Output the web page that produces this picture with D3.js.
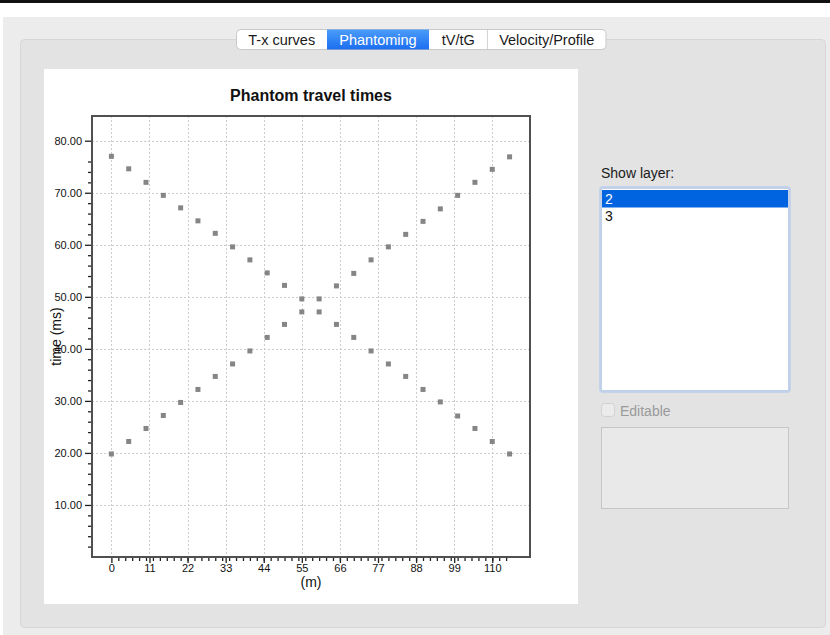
<!DOCTYPE html>
<html>
<head>
<meta charset="utf-8">
<script src="https://cdn.jsdelivr.net/npm/d3@7/dist/d3.min.js"></script>
<style>
  html, body { margin: 0; padding: 0; background: #fff; }
  svg { display: block; }
  text { font-family: "Liberation Sans", Arial, sans-serif; }
</style>
</head>
<body>
<svg id="app" width="830" height="635"></svg>
<script>
// Receiver positions along the line (m)
const positions = [0, 5, 10, 15, 20, 25, 30, 35, 40, 45, 50, 55,
                   60, 65, 70, 75, 80, 85, 90, 95, 100, 105, 110, 115];
// Phantom travel times (ms), shot at the left end
const shotLeft = [19.8, 22.2, 24.7, 27.2, 29.7, 32.2, 34.7, 37.1, 39.6, 42.2, 44.7, 47.1,
                  49.6, 52.1, 54.5, 57.1, 59.6, 62.0, 64.5, 66.9, 69.5, 72.0, 74.5, 76.9];
// Phantom travel times (ms), shot at the right end
const shotRight = [77.0, 74.6, 72.0, 69.5, 67.1, 64.6, 62.2, 59.6, 57.1, 54.6, 52.2, 49.6,
                   47.1, 44.7, 42.2, 39.6, 37.1, 34.7, 32.2, 29.8, 27.1, 24.7, 22.2, 19.8];
// Axis ticks
const xTicks = [0, 11, 22, 33, 44, 55, 66, 77, 88, 99, 110];
const xMinorTicks = [2, 4, 6, 8, 10, 12, 14, 16, 18, 20, 22, 24, 26, 28, 30, 32, 34, 36, 38, 40,
                     42, 44, 46, 48, 50, 52, 54, 56, 58, 60, 62, 64, 66, 68, 70, 72, 74, 76, 78, 80,
                     82, 84, 86, 88, 90, 92, 94, 96, 98, 100, 102, 104, 106, 108, 110, 112, 114];
const yTicks = [10, 20, 30, 40, 50, 60, 70, 80];
const yMinorTicks = [2, 4, 6, 8, 12, 14, 16, 18, 22, 24, 26, 28, 32, 34, 36, 38, 42, 44, 46, 48,
                     52, 54, 56, 58, 62, 64, 66, 68, 72, 74, 76];
// Interface labels
const tabs = ["T-x curves", "Phantoming", "tV/tG", "Velocity/Profile"];
const activeTab = "Phantoming";
const layers = ["2", "3"];
const selectedLayer = "2";

const svg = d3.select("#app");

// ---- window chrome ----
svg.append("rect").attr("x", 0).attr("y", 0).attr("width", 830).attr("height", 3).attr("fill", "#111");
svg.append("rect").attr("x", 3).attr("y", 17).attr("width", 827).attr("height", 618).attr("fill", "#ececec");
svg.append("rect").attr("x", 20.5).attr("y", 39.5).attr("width", 805).attr("height", 588)
  .attr("rx", 4).attr("fill", "#e3e3e3").attr("stroke", "#d6d6d6");

// ---- tab bar ----
const tabEdges = [236.5, 327, 429, 487.5, 606];
const tabG = svg.append("g");
const grad = svg.append("defs").append("linearGradient").attr("id", "tabBlue")
  .attr("x1", 0).attr("y1", 0).attr("x2", 0).attr("y2", 1);
grad.append("stop").attr("offset", "0%").attr("stop-color", "#4a9cf9");
grad.append("stop").attr("offset", "100%").attr("stop-color", "#1c6ef0");
tabG.append("rect").attr("x", tabEdges[0]).attr("y", 29.5).attr("width", tabEdges[4] - tabEdges[0])
  .attr("height", 20).attr("rx", 4).attr("fill", "#fff").attr("stroke", "#c9c9c9");
tabs.forEach((t, i) => {
  const x0 = tabEdges[i], x1 = tabEdges[i + 1];
  if (t === activeTab) {
    tabG.append("rect").attr("x", x0).attr("y", 29.5).attr("width", x1 - x0).attr("height", 20)
      .attr("fill", "url(#tabBlue)");
  } else if (i > 0 && tabs[i - 1] !== activeTab) {
    tabG.append("line").attr("x1", x0).attr("x2", x0).attr("y1", 30).attr("y2", 49)
      .attr("stroke", "#d4d4d4");
  }
  tabG.append("text").attr("x", (x0 + x1) / 2).attr("y", 44.5).attr("text-anchor", "middle")
    .attr("font-size", 14.5).attr("fill", t === activeTab ? "#fff" : "#1a1a1a").text(t);
});

// ---- chart panel ----
svg.append("rect").attr("x", 44).attr("y", 69).attr("width", 534).attr("height", 535).attr("fill", "#fff");

const plot = { left: 92, right: 530, top: 116, bottom: 557 };
const x = d3.scaleLinear().domain([-5.6, 120.9]).range([plot.left, plot.right]);
const y = d3.scaleLinear().domain([0, 84.75]).range([plot.bottom, plot.top]);

svg.append("text").attr("x", (plot.left + plot.right) / 2).attr("y", 101)
  .attr("text-anchor", "middle").attr("font-size", 16).attr("font-weight", "bold")
  .attr("fill", "#111").text("Phantom travel times");

// grid
const grid = svg.append("g").attr("stroke", "#cdcdcd").attr("stroke-width", 1)
  .attr("stroke-dasharray", "2,2");
grid.selectAll("line.v").data(xTicks).join("line").attr("class", "v")
  .attr("x1", d => Math.round(x(d)) + 0.5).attr("x2", d => Math.round(x(d)) + 0.5)
  .attr("y1", plot.top).attr("y2", plot.bottom);
grid.selectAll("line.h").data(yTicks).join("line").attr("class", "h")
  .attr("y1", d => Math.round(y(d)) + 0.5).attr("y2", d => Math.round(y(d)) + 0.5)
  .attr("x1", plot.left).attr("x2", plot.right);

// markers
const points = positions.flatMap((p, i) => [[p, shotLeft[i]], [p, shotRight[i]]]);
svg.append("g").selectAll("rect").data(points).join("rect")
  .attr("x", d => x(d[0]) - 2.5).attr("y", d => y(d[1]) - 2.5)
  .attr("width", 5).attr("height", 5).attr("fill", "#858585");

// frame
svg.append("rect").attr("x", plot.left).attr("y", plot.top)
  .attr("width", plot.right - plot.left).attr("height", plot.bottom - plot.top)
  .attr("fill", "none").attr("stroke", "#505050").attr("stroke-width", 2);

// axes
function styleAxis(g) {
  g.select(".domain").remove();
  g.selectAll(".tick line").attr("stroke", "#222").attr("stroke-width", 1.3);
  g.selectAll(".tick text").attr("fill", "#111").attr("font-size", 11)
    .attr("font-family", "'Liberation Sans', Arial, sans-serif");
}
svg.append("g").attr("transform", `translate(${plot.left - 1},0)`)
  .call(d3.axisLeft(y).tickValues(yTicks).tickFormat(d3.format(".2f")).tickSize(6).tickPadding(3))
  .call(styleAxis);
svg.append("g").attr("transform", `translate(${plot.left - 1},0)`)
  .call(d3.axisLeft(y).tickValues(yMinorTicks).tickFormat("").tickSize(3))
  .call(styleAxis);
svg.append("g").attr("transform", `translate(0,${plot.bottom + 1})`)
  .call(d3.axisBottom(x).tickValues(xTicks).tickFormat(d3.format("d")).tickSize(5).tickPadding(1))
  .call(styleAxis);
svg.append("g").attr("transform", `translate(0,${plot.bottom + 1})`)
  .call(d3.axisBottom(x).tickValues(xMinorTicks).tickFormat("").tickSize(3))
  .call(styleAxis);

svg.append("text").attr("transform", `translate(61,${(plot.top + plot.bottom) / 2}) rotate(-90)`)
  .attr("text-anchor", "middle").attr("font-size", 14).attr("fill", "#111").text("time (ms)");
svg.append("text").attr("x", (plot.left + plot.right) / 2).attr("y", 587)
  .attr("text-anchor", "middle").attr("font-size", 14).attr("fill", "#111").text("(m)");

// ---- layer selector ----
svg.append("text").attr("x", 601).attr("y", 178).attr("font-size", 14).attr("fill", "#1a1a1a")
  .text("Show layer:");
svg.append("rect").attr("x", 599.5).attr("y", 186.5).attr("width", 191).attr("height", 206)
  .attr("rx", 3).attr("fill", "#bfd0e8").attr("stroke", "#c4d3ea");
svg.append("rect").attr("x", 602).attr("y", 189).attr("width", 186).attr("height", 201).attr("fill", "#fff");
const rowH = 17.5;
layers.forEach((l, i) => {
  const top = 190 + i * rowH;
  if (l === selectedLayer) {
    svg.append("rect").attr("x", 602).attr("y", top).attr("width", 186).attr("height", rowH)
      .attr("fill", "#0064e1");
  }
  svg.append("text").attr("x", 605).attr("y", top + 13.5).attr("font-size", 14)
    .attr("fill", l === selectedLayer ? "#fff" : "#111").text(l);
});

svg.append("rect").attr("x", 601.5).attr("y", 403.5).attr("width", 13).attr("height", 13).attr("rx", 3)
  .attr("fill", "#ebebeb").attr("stroke", "#d2d2d2");
svg.append("text").attr("x", 620).attr("y", 415.5).attr("font-size", 14).attr("fill", "#9a9a9a")
  .text("Editable");
svg.append("rect").attr("x", 601.5).attr("y", 427.5).attr("width", 187).attr("height", 81)
  .attr("fill", "#e9e9e9").attr("stroke", "#c6c6c6");
</script>
</body>
</html>
